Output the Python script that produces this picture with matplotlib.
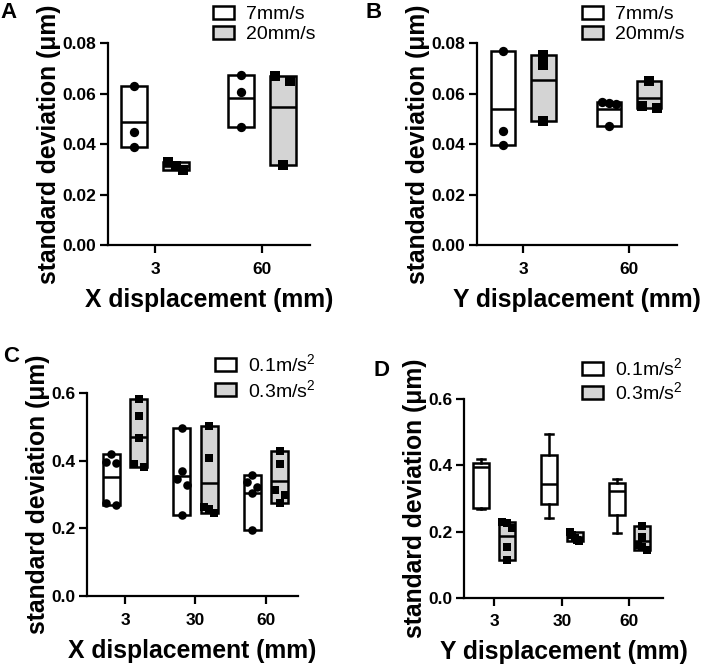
import numpy as np
import matplotlib
matplotlib.use('Agg')
import matplotlib.pyplot as plt
from matplotlib.patches import Patch

plt.rcParams['font.family'] = ['Liberation Sans', 'DejaVu Sans']
plt.rcParams['mathtext.default'] = 'regular'

# ---- data ----
a_cats = ['3', '60']
a_7mm = [[0.0631, 0.0449, 0.0388], [0.0674, 0.0608, 0.0467]]
a_20mm = [[0.0330, 0.0315, 0.0297], [0.0670, 0.0650, 0.0317]]

b_cats = ['3', '60']
b_7mm = [[0.0769, 0.0453, 0.0397], [0.0566, 0.0564, 0.0560, 0.0472]]
b_20mm = [[0.0754, 0.0714, 0.0493], [0.0652, 0.0550, 0.0543]]

c_cats = ['3', '30', '60']
c_01 = [[0.420, 0.396, 0.394, 0.276, 0.269],
        [0.496, 0.370, 0.345, 0.329, 0.240],
        [0.358, 0.338, 0.324, 0.304, 0.195]]
c_03 = [[0.582, 0.533, 0.469, 0.391, 0.381],
        [0.503, 0.408, 0.262, 0.258, 0.245],
        [0.430, 0.390, 0.313, 0.298, 0.276]]

d_cats = ['3', '30', '60']
d_01 = [[0.420, 0.396, 0.394, 0.276, 0.269],
        [0.496, 0.370, 0.345, 0.329, 0.240],
        [0.358, 0.338, 0.324, 0.304, 0.195]]
d_03 = [[0.228, 0.225, 0.210, 0.152, 0.115],
        [0.198, 0.190, 0.180, 0.175, 0.170],
        [0.218, 0.185, 0.160, 0.152, 0.145]]

GRAY = '#d4d4d4'
LW = 1.8


def jitter(vals, close, d):
    # spread points that sit close together, like Prism's scatter
    order = np.argsort(vals)[::-1]
    offs = np.zeros(len(vals))
    groups = [[order[0]]]
    for i in order[1:]:
        if abs(vals[groups[-1][-1]] - vals[i]) < close:
            groups[-1].append(i)
        else:
            groups.append([i])
    for g in groups:
        if len(g) > 1:
            offs[g] = np.linspace(-d, d, len(g))
    return offs


def floating(ax, x, vals, color, marker, w, ms, close, d):
    vals = np.array(vals)
    ax.bar(x, vals.max() - vals.min(), bottom=vals.min(), width=w,
           color=color, edgecolor='black', linewidth=LW, zorder=2)
    ax.hlines(vals.mean(), x - w / 2, x + w / 2, color='black', lw=LW, zorder=3)
    ax.scatter(x + jitter(vals, close, d), vals, s=ms, marker=marker,
               color='black', zorder=4, clip_on=False, linewidths=0)


def boxwhisker(ax, x, vals, w):
    vals = np.array(vals)
    q1, med, q3 = np.percentile(vals, [25, 50, 75], method='weibull')
    st = [dict(med=med, q1=q1, q3=q3, whislo=vals.min(), whishi=vals.max(), fliers=[])]
    ax.bxp(st, positions=[x], widths=w, capwidths=w * 0.5, showfliers=False,
           patch_artist=True,
           boxprops=dict(facecolor='white', edgecolor='black', linewidth=LW),
           medianprops=dict(color='black', linewidth=LW),
           whiskerprops=dict(color='black', linewidth=LW),
           capprops=dict(color='black', linewidth=LW), manage_ticks=False)


def style(ax, cats, xlim, ylim, yticks, fmt, xlabel):
    ax.set_xlim(*xlim)
    ax.set_ylim(*ylim)
    ax.set_xticks(range(len(cats)))
    ax.set_xticklabels(cats)
    ax.set_yticks(yticks)
    ax.set_yticklabels([fmt.format(v) for v in yticks])
    for s in ['top', 'right']:
        ax.spines[s].set_visible(False)
    for s in ['left', 'bottom']:
        ax.spines[s].set_linewidth(1.6)
    ax.tick_params(width=1.6, length=5.5, labelsize=12.5, pad=3)
    ax.tick_params(axis='x', pad=6.5)
    for lab in ax.get_xticklabels() + ax.get_yticklabels():
        lab.set_fontweight('bold')
    ax.set_ylabel('standard deviation (μm)', fontsize=17.8, fontweight='bold', labelpad=1)
    ax.set_xlabel(xlabel, fontsize=17.8, fontweight='bold', labelpad=8)


def legend(ax, labels, x, y, sp=0.12):
    handles = [Patch(facecolor='white', edgecolor='black', linewidth=LW),
               Patch(facecolor=GRAY, edgecolor='black', linewidth=LW)]
    ax.legend(handles, labels, loc='upper left', bbox_to_anchor=(x / 701, 1 - y / 665),
              bbox_transform=fig.transFigure, frameon=False, fontsize=14,
              handlelength=1.1, handleheight=0.65, handletextpad=0.6,
              labelspacing=sp, borderaxespad=0, borderpad=0)


fig = plt.figure(figsize=(7.01, 6.65), dpi=100)

# A
axA = fig.add_axes([108 / 701, 1 - 245 / 665, 202 / 701, 201.7 / 665])
for i in range(len(a_cats)):
    floating(axA, i - 0.195, a_7mm[i], 'white', 'o', 0.24, 45, 0.0024, 0.07)
    floating(axA, i + 0.195, a_20mm[i], GRAY, 's', 0.24, 45, 0.0024, 0.07)
style(axA, a_cats, (-0.44, 1.45), (0, 0.08), [0, 0.02, 0.04, 0.06, 0.08], '{:.2f}',
      'X displacement (mm)')
legend(axA, ['7mm/s', '20mm/s'], 213, 6)

# B
axB = fig.add_axes([476.7 / 701, 1 - 245 / 665, 200 / 701, 201.7 / 665])
for i in range(len(b_cats)):
    floating(axB, i - 0.19, b_7mm[i], 'white', 'o', 0.23, 45, 0.0024, 0.07)
    floating(axB, i + 0.19, b_20mm[i], GRAY, 's', 0.23, 45, 0.0024, 0.07)
style(axB, b_cats, (-0.44, 1.45), (0, 0.08), [0, 0.02, 0.04, 0.06, 0.08], '{:.2f}',
      'Y displacement (mm)')
legend(axB, ['7mm/s', '20mm/s'], 582, 6)

# C
axC = fig.add_axes([87.3 / 701, 1 - 596 / 665, 210.4 / 701, 202.7 / 665])
for i in range(len(c_cats)):
    floating(axC, i - 0.195, c_01[i], 'white', 'o', 0.237, 38, 0.018, 0.07)
    floating(axC, i + 0.195, c_03[i], GRAY, 's', 0.237, 38, 0.018, 0.07)
style(axC, c_cats, (-0.535, 2.45), (0, 0.6), [0, 0.2, 0.4, 0.6], '{:.1f}',
      'X displacement (mm)')
legend(axC, ['0.1m/s$^2$', '0.3m/s$^2$'], 215, 353, sp=0.2)

# D
axD = fig.add_axes([464.3 / 701, 1 - 597.7 / 665, 199 / 701, 198.4 / 665])
for i in range(len(d_cats)):
    boxwhisker(axD, i - 0.19, d_01[i], 0.236)
    floating(axD, i + 0.19, d_03[i], GRAY, 's', 0.236, 38, 0.018, 0.07)
style(axD, d_cats, (-0.44, 2.50), (0, 0.6), [0, 0.2, 0.4, 0.6], '{:.1f}',
      'Y displacement (mm)')
legend(axD, ['0.1m/s$^2$', '0.3m/s$^2$'], 582, 357)

for lab, x, y in [('A', 0, 13), ('B', 366, 13), ('C', 3, 356), ('D', 374, 370)]:
    fig.text(x / 701, 1 - y / 665, lab, fontsize=16, fontweight='bold', va='center')

fig.savefig('out.png', dpi=100)
